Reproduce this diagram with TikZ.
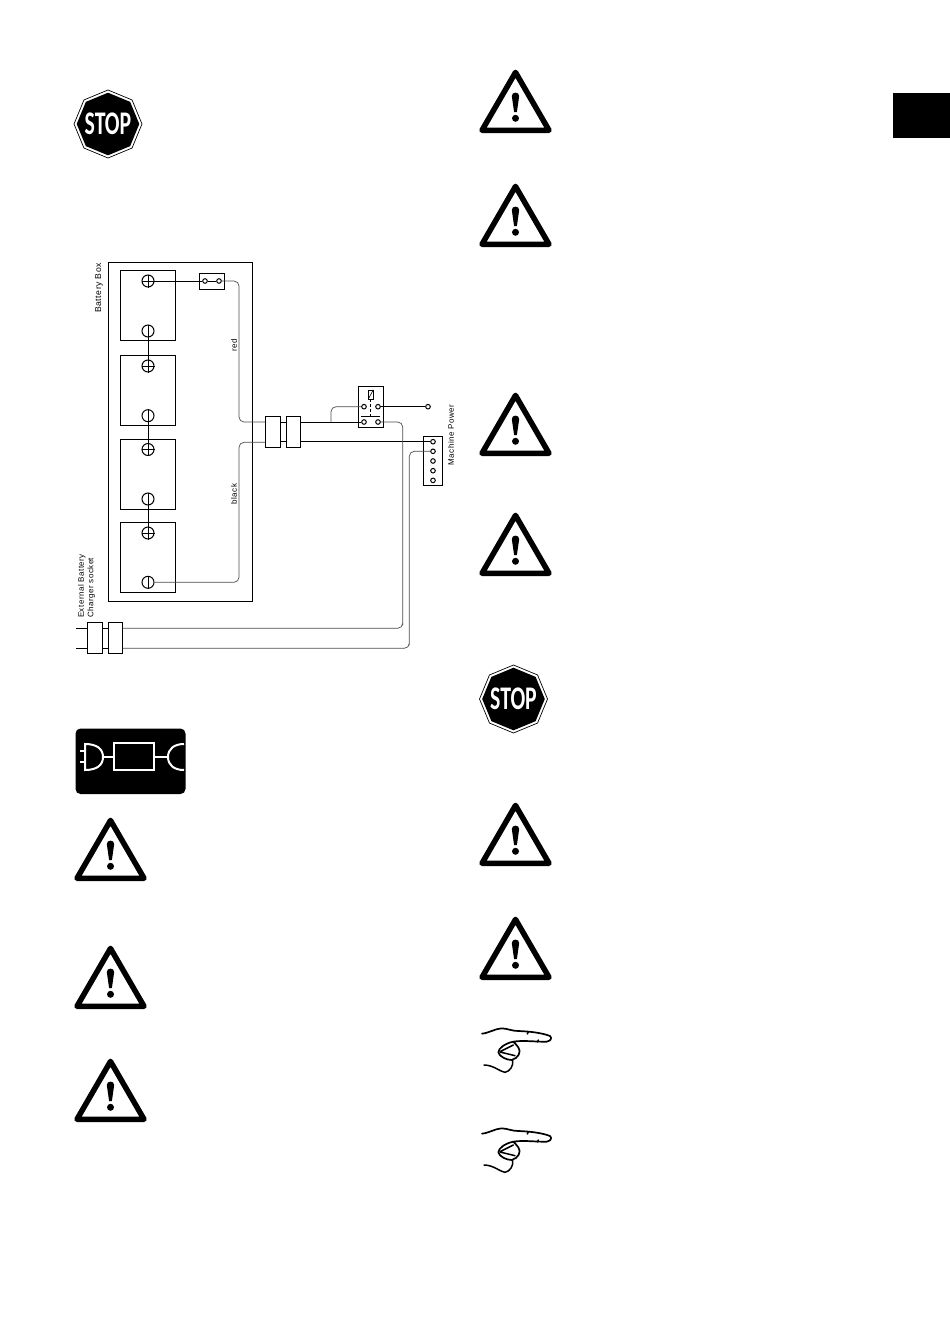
\documentclass[tikz,border=0pt]{standalone}
\usepackage{fontspec}
\setmainfont[LetterSpace=6]{Liberation Sans}
\newfontfamily\signfont{Carlito}
\usetikzlibrary{shapes.geometric}
\tikzset{
	wire/.style={line width=0.7pt, color=black!70},
	lead/.style={line width=0.8pt},
	boxline/.style={draw, line width=1pt, fill=white, inner sep=0pt},
	term/.style={draw, circle, line width=1pt, inner sep=0pt, minimum size=#1},
	caption/.style={font=\fontsize{8}{9.5}\selectfont, rotate=90, inner sep=0pt, align=left},
	warnsign/.pic={
		\draw[line width=5.5pt, line join=round] (0, -60.6) -- (33.5, -2.75) -- (-33.5, -2.75) -- cycle;
		\fill (-3.7, -37) .. controls (-3.7, -41.5) and (3.7, -41.5) .. (3.7, -37) -- (1.4, -21) -- (-1.4, -21) -- cycle;
		\fill (0, -14.7) circle (3.5);
	},
	stopsign/.pic={
		\node[draw, line width=0.7pt, regular polygon, regular polygon sides=8, shape border rotate=22.5, minimum size=68pt, inner sep=0pt] (rim) at (0, 0) {};
		\node[fill=black, regular polygon, regular polygon sides=8, shape border rotate=22.5, minimum size=62.6pt, inner sep=0pt] (face) at (0, 0) {};
		\node[color=white, inner sep=0pt] (word) at (0, 0) {\signfont\bfseries\fontsize{33}{33}\selectfont\scalebox{0.66}[1]{STOP}};
	},
	handsign/.pic={
		\draw[line width=1.7pt, line cap=round, line join=round, scale=1/3]
			(36, 41) .. controls (60, 38) and (75, 26) .. (95, 25) .. controls (115, 26) and (125, 33) .. (145, 33)
			.. controls (175, 34) and (215, 38) .. (240, 48) .. controls (246, 54) and (244, 62) .. (230, 65)
			.. controls (200, 66) and (160, 60) .. (130, 65) .. controls (105, 70) and (85, 85) .. (85, 97)
			.. controls (88, 110) and (110, 120) .. (125, 120) .. controls (145, 115) and (155, 95) .. (145, 82)
			.. controls (140, 75) and (135, 70) .. (130, 65);
		\draw[line width=1.5pt, line cap=round, line join=round, scale=1/3]
			(90, 95) -- (130, 75) (90, 96) -- (135, 107)
			(128, 120) .. controls (132, 135) and (120, 155) .. (105, 157) .. controls (90, 155) and (70, 135) .. (42, 135)
			(175, 35) -- (172, 42) (205, 60) -- (203, 66);
	}
}

\begin{document}
\begin{tikzpicture}[x=1pt, y=-1pt]
	%%%%% START %%%%%
	\useasboundingbox (0, 0) rectangle (950, 1344);

	\fill (892.5, 93) rectangle (950, 138);

	\pic (stopa) at (108, 124) {stopsign};
	\pic (stopb) at (513.5, 699) {stopsign};

	\foreach \px/\py in {515.5/133, 515.5/247, 515.5/456, 515.5/576, 515.5/866, 515.5/980, 110.5/881, 110.5/1009, 110.5/1122}
		\pic at (\px, \py) {warnsign};

	\pic at (470, 1020) {handsign};
	\pic at (470, 1120) {handsign};

	% charger symbol
	\fill[rounded corners=5pt] (75.5, 728.5) rectangle (185.5, 794);
	\draw[color=white, line width=2pt] (114, 743) rectangle (153.5, 770);
	\draw[color=white, line width=2pt] (85, 744) .. controls (97, 744) and (103, 749) .. (103, 757) .. controls (103, 765) and (97, 770) .. (85, 770) -- cycle;
	\draw[color=white, line width=1.6pt] (80, 750.7) -- (85, 750.7) (80, 761.7) -- (85, 761.7);
	\draw[color=white, line width=1.6pt] (103, 757) -- (114, 757) (153.5, 757) -- (168, 757);
	\draw[color=white, line width=2pt] (184, 744) .. controls (174, 744) and (168, 749) .. (168, 757) .. controls (168, 765) and (174, 770) .. (184, 770);

	% battery box
	\draw[line width=1pt] (108.3, 262.5) rectangle (252, 601.7);
	\node[caption, scale=1.08] (boxlabel) at (99, 288) {Battery Box};
	\node[caption] (redlabel) at (234, 345) {red};
	\node[caption] (blacklabel) at (234, 494) {black};
	\node[caption, anchor=west] (chargerlabel) at (86.5, 618) {External Battery\\Charger socket};
	\node[caption] (powerlabel) at (451, 435) {Machine Power};

	\foreach \n/\top/\bot/\pl/\mi in {1/270.7/340.3/281/331, 2/355.3/425.7/366/415.7, 3/439/509/449.5/499, 4/522.3/592.3/533/582.3} {
		\draw[line width=1pt] (120.7, \top) rectangle (175, \bot);
		\node[term=12pt] (bat\n p) at (148, \pl) {};
		\node[term=12pt] (bat\n m) at (148, \mi) {};
		\draw[line width=1pt] (bat\n p.north) -- (bat\n p.south) (bat\n p.west) -- (bat\n p.east);
		\draw[line width=1pt] (bat\n m.north) -- (bat\n m.south);
	}

	\node[boxline, minimum width=25.4pt, minimum height=16pt] (fuse) at (212, 281.3) {};
	\node[term=4.6pt] (fusea) at (205, 281) {};
	\node[term=4.6pt] (fuseb) at (219, 281) {};

	\draw[lead] (bat1m) -- (bat2p);
	\draw[lead] (bat2m) -- (bat3p);
	\draw[lead] (bat3m) -- (bat4p);
	\draw[lead] (bat1p) -- (fusea);
	\draw[lead] (fusea) -- (fuseb);

	% relay and terminal strip
	\node[boxline, minimum width=25.3pt, minimum height=41pt] (relay) at (370.7, 406.8) {};
	\draw[line width=0.7pt] (368.2, 390) rectangle (373.2, 399.3);
	\draw[line width=0.6pt] (368.2, 399.3) -- (373.2, 390);
	\draw[line width=0.7pt, densely dashed] (370.7, 399.3) -- (370.7, 416);
	\draw[lead] (361.3, 416.3) -- (380, 416.3);
	\node[term=4.6pt] (rela) at (364, 406.7) {};
	\node[term=4.6pt] (relb) at (378, 406.7) {};
	\node[term=4.6pt] (relc) at (364, 422) {};
	\node[term=4.6pt] (reld) at (378, 422) {};
	\node[term=4.6pt] (powerout) at (428, 406.7) {};
	\draw[lead] (relb) -- (powerout);

	\node[boxline, minimum width=18.7pt, minimum height=49.4pt] (strip) at (433.3, 461) {};
	\foreach \n/\py in {1/441.7, 2/451.3, 3/461, 4/470.7, 5/480.4}
		\node[term=4.6pt] (strip\n) at (433, \py) {};

	% wiring through the plugs
	\coordinate (reda) at (273, 422);
	\coordinate (blacka) at (273, 442.3);
	\coordinate (redbend) at (239, 422);
	\coordinate (blackbend) at (239, 442.3);
	\coordinate (branch) at (331, 422);
	\coordinate (bendb) at (402.7, 628.3);
	\coordinate (bendc) at (409.3, 648.3);
	\coordinate (exta) at (76, 628.3);
	\coordinate (extb) at (76, 648.3);
	\coordinate (extc) at (115, 628.3);
	\coordinate (extd) at (115, 648.3);

	\draw[wire, rounded corners=5pt] (fuseb) -| (redbend) -- (reda);
	\draw[wire, rounded corners=5pt] (bat4m) -| (blackbend) -- (blacka);
	\draw[lead] (reda) -- (relc);
	\draw[lead] (blacka |- strip1) -- (strip1);
	\draw[wire, rounded corners=5pt] (branch) |- (rela);
	\draw[wire, rounded corners=5pt] (reld) -| (bendb) |- (extc);
	\draw[wire, rounded corners=5pt] (strip2) -| (bendc) |- (extd);
	\draw[lead] (exta) -- (extc);
	\draw[lead] (extb) -- (extd);

	\node[boxline, minimum width=14.7pt, minimum height=30.6pt] (pluga) at (272.7, 432) {};
	\node[boxline, minimum width=14.4pt, minimum height=30.6pt] (plugb) at (293.5, 432) {};
	\node[boxline, minimum width=14.7pt, minimum height=30.6pt] (plugc) at (94.7, 638) {};
	\node[boxline, minimum width=14.4pt, minimum height=30.6pt] (plugd) at (115.5, 638) {};

	%%%%% END %%%%%
\end{tikzpicture}
\end{document}
